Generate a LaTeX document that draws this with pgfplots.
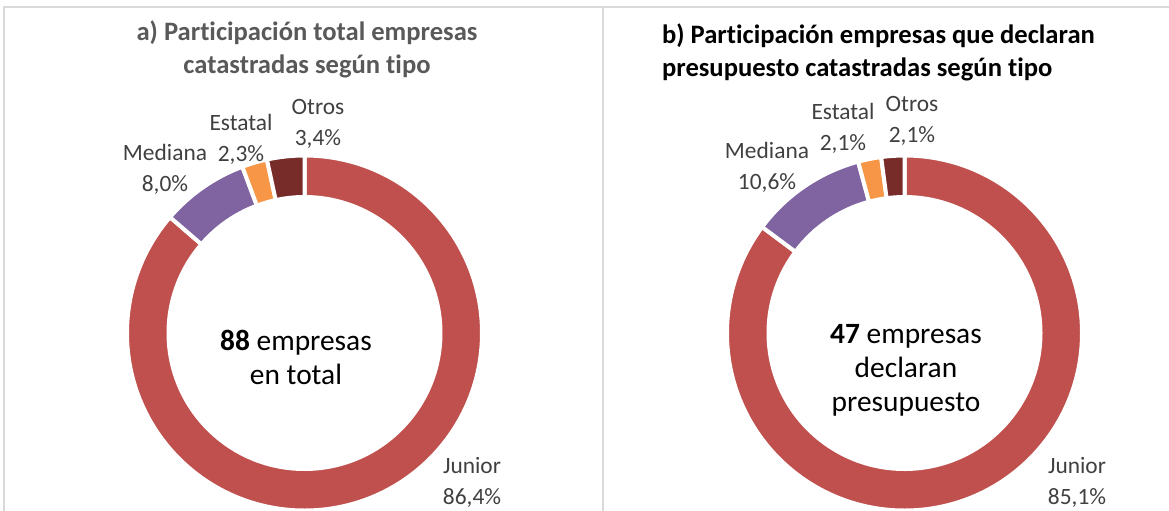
\documentclass[border=0pt]{standalone}
\usepackage{pgfplots}
\pgfplotsset{compat=1.18}
\usepackage{pgfplotstable}
\usetikzlibrary{calc}
\usepackage{fontspec}
\setmainfont{Carlito}[Ligatures={NoCommon}]

\definecolor{cJun}{HTML}{C0504D}
\definecolor{cMed}{HTML}{8064A2}
\definecolor{cEst}{HTML}{F79646}
\definecolor{cOtr}{HTML}{772C2A}
\definecolor{txt}{HTML}{404040}
\definecolor{tit}{HTML}{595959}
\definecolor{frame}{HTML}{D9D9D9}

% a) total empresas catastradas (%)
\pgfplotstableread{
tipo    pct  color
Junior  86.4 cJun
Mediana 8.0  cMed
Estatal 2.3  cEst
Otros   3.4  cOtr
}\tablaA

% b) empresas que declaran presupuesto (%)
\pgfplotstableread{
tipo    pct  color
Junior  85.1 cJun
Mediana 10.6 cMed
Estatal 2.1  cEst
Otros   2.1  cOtr
}\tablaB

% ring radii (1 px = 0.5pt)
\def\Rout{88.75pt}
\def\Rin{68pt}

% donut from a table, clockwise from 12 o'clock; #2,#3 = centre in px
\newcommand{\donut}[3]{%
  \pgfplotsextra{%
    \pgfplotstablegetrowsof{#1}\pgfmathtruncatemacro{\nlast}{\pgfplotsretval-1}%
    \xdef\dsum{0}%
    \foreach \i in {0,...,\nlast}{%
      \pgfplotstablegetelem{\i}{pct}\of{#1}%
      \pgfmathsetmacro{\tmp}{\dsum+\pgfplotsretval}\xdef\dsum{\tmp}}%
    \xdef\dang{90}%
    \foreach \i in {0,...,\nlast}{%
      \pgfplotstablegetelem{\i}{pct}\of{#1}\let\sliceval\pgfplotsretval
      \pgfplotstablegetelem{\i}{color}\of{#1}\let\slicecol\pgfplotsretval
      \pgfmathsetmacro{\aend}{\dang-\sliceval/\dsum*360}%
      \fill[fill=\slicecol, draw=white, line width=2pt]
        ($(axis cs:#2,#3)+(\dang:\Rout)$)
        arc[start angle=\dang, end angle=\aend, radius=\Rout]
        -- ($(axis cs:#2,#3)+(\aend:\Rin)$)
        arc[start angle=\aend, end angle=\dang, radius=\Rin] -- cycle;
      \xdef\dang{\aend}}%
  }}

\begin{document}
\begin{tikzpicture}
\begin{axis}[x=0.5pt, y=0.5pt, xmin=0, xmax=1169, ymin=0, ymax=510,
    y dir=reverse, hide axis, scale only axis, clip=true]

  % frames
  \draw[frame, line width=1pt] (axis cs:4,512) -- (axis cs:4,7) -- (axis cs:1170,7);
  \draw[frame, line width=1pt] (axis cs:603,7) -- (axis cs:603,512);

  \donut{\tablaA}{304.5}{333}
  \donut{\tablaB}{904.5}{333}

  % titles
  \node[text=tit, align=center, font=\bfseries\fontsize{13.3}{16.5}\selectfont]
    at (axis cs:307,49) {a) Participación total empresas\\catastradas según tipo};
  \node[text=black, align=left, anchor=west, font=\bfseries\fontsize{13.3}{16.5}\selectfont]
    at (axis cs:655,52) {b) Participación empresas que declaran\\presupuesto catastradas según tipo};

  % data labels
  \begin{scope}[every node/.style={text=txt, align=center, font=\fontsize{11.7}{15.5}\selectfont}]
    \node at (axis cs:318,124) {Otros\\3,4\%};
    \node at (axis cs:241,139) {Estatal\\2,3\%};
    \node at (axis cs:165,169) {Mediana\\8,0\%};
    \node at (axis cs:472,482) {Junior\\86,4\%};
    \node at (axis cs:912,121) {Otros\\2,1\%};
    \node at (axis cs:843,128) {Estatal\\2,1\%};
    \node at (axis cs:767,167) {Mediana\\10,6\%};
    \node at (axis cs:1077,482) {Junior\\85,1\%};
  \end{scope}

  % centre texts
  \node[align=center, font=\fontsize{14.7}{17}\selectfont]
    at (axis cs:296,357) {\textbf{88} empresas\\en total};
  \node[align=center, font=\fontsize{14.7}{17}\selectfont]
    at (axis cs:906,370) {\textbf{47} empresas\\declaran\\presupuesto};
\end{axis}
\pgfresetboundingbox
\path (current axis.south west) rectangle (current axis.north east);
\end{tikzpicture}
\end{document}
